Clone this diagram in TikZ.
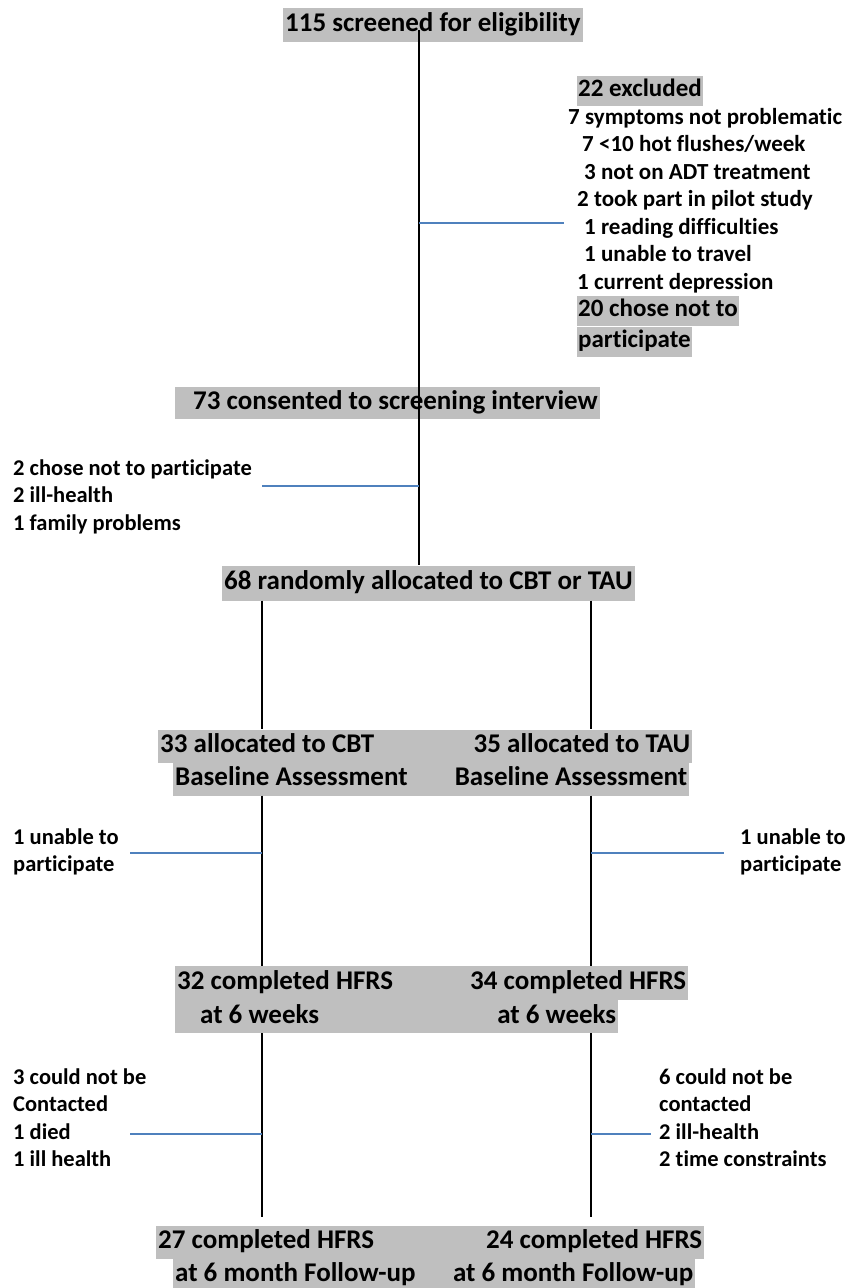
\documentclass[tikz,border=0pt]{standalone}
\usepackage{fontspec}
\setmainfont{Carlito}[Ligatures=NoCommon]
\usetikzlibrary{positioning}
\setlength{\parindent}{0pt}
\definecolor{boxgray}{RGB}{191,191,191}
\definecolor{lineblue}{RGB}{79,129,189}
\newcommand{\bigtxt}{\fontsize{27}{33}\selectfont\bfseries}
\newcommand{\smalltxt}{\fontsize{22.5}{27.5}\selectfont\bfseries}
\newcommand{\hl}[1]{{\setlength{\fboxsep}{1pt}\colorbox{boxgray}{\fontsize{25}{28}\selectfont\strut #1}}}

\begin{document}
\begin{tikzpicture}[x=1pt, y=-1pt,
  rowbox/.style={fill=boxgray, font=\bigtxt, anchor=west, inner xsep=2pt,
                 inner ysep=0pt, minimum height=33pt, text height=19pt, text depth=6pt},
  note/.style={font=\smalltxt, align=left, anchor=north west, inner sep=0pt},
  flow/.style={black, line width=1.1pt},
  branch/.style={lineblue, line width=1.4pt},
]
  \useasboundingbox (0,0) rectangle (848,1288);

  % main boxes
  \node[rowbox, minimum height=34pt] (scr) at (283,25) {115 screened for eligibility};
  \node[rowbox, minimum height=32pt] (cons) at (175,403) {\hspace*{16pt}73 consented to screening interview};
  \node[rowbox, minimum height=35pt] (rand) at (222,583) {68 randomly allocated to CBT or TAU};

  \node[rowbox] (allocA) at (158,746) {\makebox[530pt]{33 allocated to CBT\hfill 35 allocated to TAU}};
  \node[rowbox] (allocB) at (173,779) {\makebox[512pt]{Baseline Assessment\hfill Baseline Assessment}};

  \node[rowbox, minimum height=34pt] (wkA) at (175,983) {\makebox[509pt]{32 completed HFRS\hfill 34 completed HFRS}};
  \node[rowbox] (wkB) at (175,1016.5) {\makebox[439pt]{\hspace*{23pt}at 6 weeks\hfill at 6 weeks}};

  \node[rowbox] (fuA) at (156,1242) {\makebox[544pt]{27 completed HFRS\hfill 24 completed HFRS}};
  \node[rowbox] (fuB) at (173,1275) {\makebox[518pt]{at 6 month Follow-up\hfill at 6 month Follow-up}};

  % side notes
  \node[note, font=\fontsize{23}{27.5}\selectfont\bfseries] (excl) at (577,76) {\hl{22 excluded}\\
    \hspace*{-9pt}7 symptoms not problematic\\
    \hspace*{5pt}7 <10 hot flushes/week\\
    \hspace*{7pt}3 not on ADT treatment\\
    2 took part in pilot study\\
    \hspace*{7pt}1 reading difficulties\\
    \hspace*{7pt}1 unable to travel\\
    1 current depression\\
    \hl{20 chose not to}\\
    \hl{participate}};
  \node[note] (drop) at (13,456) {\strut 2 chose not to participate\\2 ill-health\\1 family problems};
  \node[note] (cbtLoss) at (13,825) {\strut 1 unable to\\participate};
  \node[note] (tauLoss) at (740,825) {\strut 1 unable to\\participate};
  \node[note] (cbtFU) at (13,1065) {\strut 3 could not be\\Contacted\\1 died\\1 ill health};
  \node[note] (tauFU) at (659,1065) {\strut 6 could not be\\contacted\\2 ill-health\\2 time constraints};

  % trunk and columns
  \coordinate (trunk) at (419,30);
  \coordinate (cbtCol) at (262,0);
  \coordinate (tauCol) at (591,0);
  \coordinate (fuTop) at ([yshift=8pt]fuA.north);
  \draw[flow] (trunk) -- (trunk |- rand.north);
  \foreach \c in {cbtCol,tauCol} {
    \draw[flow] (rand.south -| \c) -- (allocA.north -| \c);
    \draw[flow] (allocB.south -| \c) -- (wkA.north -| \c);
    \draw[flow] (wkB.south -| \c) -- (fuTop -| \c);
  }

  % exclusion branches
  \coordinate (exclEnd) at (564,223);
  \coordinate (dropEnd) at (262,486);
  \coordinate (cbtLossEnd) at (130,853);
  \coordinate (tauLossEnd) at (724,853);
  \coordinate (cbtFUEnd) at (130,1134);
  \coordinate (tauFUEnd) at (651,1134);
  \draw[branch] (trunk |- exclEnd) -- (exclEnd);
  \draw[branch] (dropEnd) -- (dropEnd -| trunk);
  \draw[branch] (cbtLossEnd) -- (cbtLossEnd -| cbtCol);
  \draw[branch] (tauLossEnd -| tauCol) -- (tauLossEnd);
  \draw[branch] (cbtFUEnd) -- (cbtFUEnd -| cbtCol);
  \draw[branch] (tauFUEnd -| tauCol) -- (tauFUEnd);
\end{tikzpicture}
\end{document}
